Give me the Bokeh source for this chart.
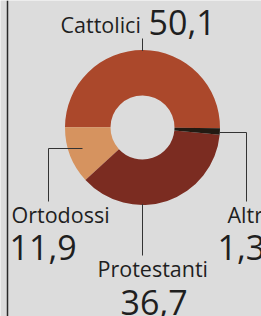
import numpy as np
from bokeh.plotting import figure
from bokeh.models import Range1d
from bokeh.core.properties import value
from bokeh.embed import file_html
from bokeh.resources import INLINE

# ---- data ----
categories = ["Cattolici", "Ortodossi", "Protestanti", "Altri"]
values = [50.1, 11.9, 36.7, 1.3]
value_labels = ["50,1", "11,9", "36,7", "1,3"]
colors = ["#ab482b", "#d6935f", "#7b2c21", "#221a12"]

# ---- layout (reference pixel coords, y downward) ----
W, H = 261, 316

def Y(ry):
    return H - ry

p = figure(width=W, height=H, x_range=Range1d(0, W), y_range=Range1d(0, H),
           output_backend="svg", toolbar_location=None, min_border=0)
p.axis.visible = False
p.grid.visible = False
p.outline_line_color = None
p.background_fill_color = "#dcdcdc"
p.border_fill_color = "#dcdcdc"

cx, cy = 142, 127
r_out, r_in = 77.5, 32

fr = np.array(values) / sum(values)
start0 = np.deg2rad(-0.6)
ends = start0 + 2 * np.pi * np.cumsum(fr)
starts = np.concatenate([[start0], ends[:-1]])

p.annular_wedge(x=[cx] * 4, y=[Y(cy)] * 4, inner_radius=r_in, outer_radius=r_out,
                start_angle=list(starts), end_angle=list(ends), direction="anticlock",
                fill_color=colors, line_color=None)

# left border line
p.segment(x0=[7], y0=[Y(0)], x1=[7], y1=[Y(H)], line_color="#2a2a2a", line_width=1.5)

lc = "#333333"
# leader lines
p.line(x=[cx, cx], y=[Y(38), Y(cy - r_out + 1)], line_color=lc, line_width=1)
p.line(x=[82, 48, 48], y=[Y(148), Y(148), Y(201)], line_color=lc, line_width=1)
p.line(x=[cx, cx], y=[Y(cy + r_out - 1), Y(255)], line_color=lc, line_width=1)
p.line(x=[219, 246, 246], y=[Y(132), Y(132), Y(201)], line_color=lc, line_width=1)

font = value("Open Sans")
tc = "#1f1f1f"
# baseline positions, corrected for the renderer's downward text offset
name_shift, num_shift = 6, 8
name_pos = [(60, 30), (11, 220), (97, 274), (227, 220)]
num_pos = [(148, 30), (9, 255), (120, 310), (217, 255)]
for i, cat in enumerate(categories):
    nx, ny = name_pos[i]
    p.text(x=[nx], y=[Y(ny - name_shift)], text=[cat], text_font=font, text_font_size="21.5px",
           text_color=tc, text_align="left", text_baseline="alphabetic")
    vx, vy = num_pos[i]
    p.text(x=[vx], y=[Y(vy - num_shift)], text=[value_labels[i]], text_font=font, text_font_size="34px",
           text_color=tc, text_align="left", text_baseline="alphabetic")

open("out.html", "w").write(file_html(p, INLINE))
